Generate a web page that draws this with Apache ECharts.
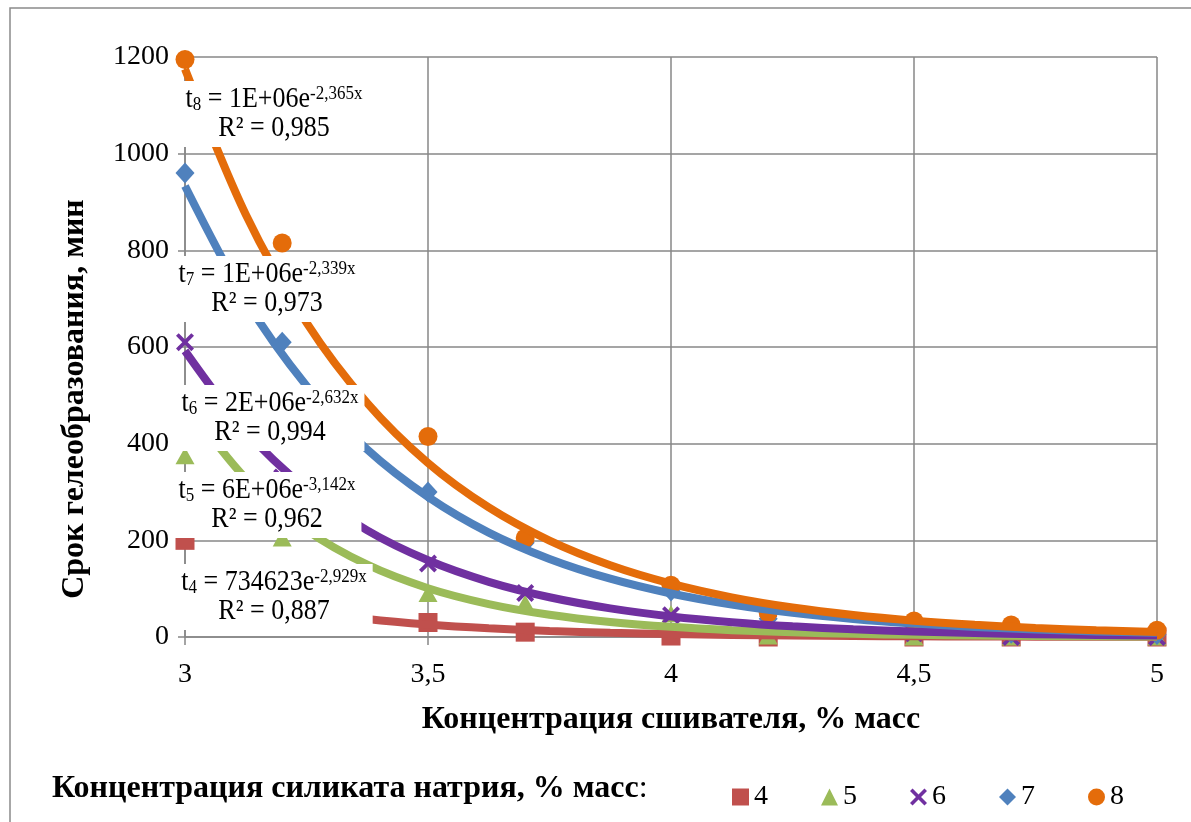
<!DOCTYPE html>
<html>
<head>
<meta charset="utf-8">
<script src="https://cdn.jsdelivr.net/npm/echarts@6/dist/echarts.min.js"></script>
<style>html,body{margin:0;padding:0;background:#fff}#c{width:1191px;height:822px}</style>
</head>
<body>
<div id="c"></div>
<script>
// Concentration of crosslinker, % mass
var xData = [3, 3.2, 3.5, 3.7, 4, 4.2, 4.5, 4.7, 5];
// Gelation time, min — sodium silicate 4..8 % mass
var s4 = [200, 60, 30, 10, 2, 0, 0, 0, 0];
var s5 = [375, 205, 90, 70, 48, 2, 0, 0, 0];
var s6 = [610, 330, 152, 91, 45, 30, 8, 0, 0];
var s7 = [960, 610, 300, 195, 95, 38, 15, 8, 5];
var s8 = [1195, 815, 415, 205, 107, 50, 33, 25, 14];
// Exponential trend lines
var trendX = [3, 3.125, 3.25, 3.375, 3.5, 3.625, 3.75, 3.875, 4, 4.125, 4.25, 4.375, 4.5, 4.625, 4.75, 4.875, 5];
var t4 = [112, 77.8, 53.9, 37.4, 25.9, 18, 12.5, 8.7, 6, 4.2, 2.9, 2, 1.4, 1, 0.7, 0.5, 0.3];
var t5 = [486, 328, 221.6, 149.6, 101, 68.2, 46.1, 31.1, 21, 14.2, 9.6, 6.5, 4.4, 3, 2, 1.3, 0.9];
var t6 = [592, 426, 306.5, 220.6, 158.7, 114.2, 82.2, 59.2, 42.6, 30.7, 22, 15.9, 11.4, 8.2, 5.9, 4.2, 3.1];
var t7 = [933, 697, 520, 388, 290, 216, 161.5, 120.6, 90, 67.2, 50.1, 37.4, 27.9, 20.8, 15.6, 11.6, 8.7];
var t8 = [1175, 874, 650.5, 484, 360, 268, 199.4, 148.4, 110.4, 82.1, 61.1, 45.5, 33.8, 25.2, 18.7, 13.9, 10.4];
var seriesNames = ['4', '5', '6', '7', '8'];
var colors = ['#C0504D', '#9BBB59', '#7030A0', '#4F81BD', '#E46C0A'];
var eqMain = ['734623e', '6E+06e', '2E+06e', '1E+06e', '1E+06e'];
var eqExp = ['-2,929x', '-3,142x', '-2,632x', '-2,339x', '-2,365x'];
var r2 = ['0,887', '0,962', '0,994', '0,973', '0,985'];
var yTicks = [0, 200, 400, 600, 800, 1000, 1200];

var serif = '"Liberation Serif","Times New Roman",serif';
var crossPath = 'path://M0,1.5 L1.5,0 L5,3.5 L8.5,0 L10,1.5 L6.5,5 L10,8.5 L8.5,10 L5,6.5 L1.5,10 L0,8.5 L3.5,5 Z';
var symbols = ['rect', 'triangle', crossPath, 'diamond', 'circle'];
var sizes = [19, [19, 17], 18, [19, 21], 19];
var pts = [s4, s5, s6, s7, s8];
var trends = [t4, t5, t6, t7, t8];

var series = [];
for (var i = 0; i < 5; i++) {
  series.push({
    name: seriesNames[i], type: 'scatter', symbol: symbols[i], symbolSize: sizes[i],
    itemStyle: {color: colors[i], opacity: 1}, z: 2, clip: false,
    data: xData.map(function (x, j) { return [x, pts[i][j]]; })
  });
}
for (var i = 0; i < 5; i++) {
  series.push({
    name: 'trend' + seriesNames[i], type: 'line', smooth: 0.3, showSymbol: false, silent: true,
    lineStyle: {color: colors[i], width: 8}, z: 3,
    data: trendX.map(function (x, j) { return [x, trends[i][j]]; })
  });
}

var labelCenters = [[274, 597], [267, 505], [270, 418], [267, 289], [274, 114]];
var graphics = [
  {type: 'rect', shape: {x: 10, y: 8, width: 1300, height: 900}, style: {fill: 'none', stroke: '#8a8a8a', lineWidth: 1.5}, z: 0, silent: true},
  {type: 'text', x: 75, y: 399, rotation: Math.PI / 2, z: 10,
   style: {text: 'Срок гелеобразования, мин', font: 'bold 32px ' + serif, fill: '#000', align: 'center', verticalAlign: 'middle'}},
  {type: 'text', x: 671, y: 720, z: 10,
   style: {text: 'Концентрация сшивателя, % масс', font: 'bold 32px ' + serif, fill: '#000', align: 'center', verticalAlign: 'middle'}},
  {type: 'text', x: 52, y: 789, z: 10,
   style: {text: '{b|Концентрация силиката натрия, % масс}{n|:}', fill: '#000', align: 'left', verticalAlign: 'middle',
     rich: {b: {font: 'bold 32px ' + serif, fill: '#000'}, n: {font: '32px ' + serif, fill: '#000'}}}}
];
for (var i = 0; i < 5; i++) {
  graphics.push({
    type: 'text', x: labelCenters[i][0], y: labelCenters[i][1], z: 20, scaleY: 1.1,
    style: {
      text: '{m|t}{sub|' + seriesNames[i] + '}{m| = ' + eqMain[i] + '}{sup|' + eqExp[i] + '}\n{m|R² = ' + r2[i] + '}',
      align: 'center', verticalAlign: 'middle', backgroundColor: '#fff', padding: [3, 6, 3, 6],
      fill: '#000',
      rich: {
        m: {font: '26px ' + serif, lineHeight: 27, fill: '#000', align: 'center'},
        sub: {font: '17px ' + serif, lineHeight: 14, verticalAlign: 'bottom', fill: '#000', align: 'center'},
        sup: {font: '17px ' + serif, lineHeight: 15, verticalAlign: 'top', fill: '#000', align: 'center'}
      }
    }
  });
}

var chart = echarts.init(document.getElementById('c'));
chart.setOption({
  animation: false,
  backgroundColor: '#fff',
  grid: {left: 185, right: 34, top: 57, bottom: 185},
  xAxis: {
    type: 'value', min: 3, max: 5, interval: 0.5,
    axisLine: {show: true, onZero: false, lineStyle: {color: '#878787', width: 1.5}},
    axisTick: {show: true, length: 8, lineStyle: {color: '#878787', width: 1.5}},
    splitLine: {show: true, lineStyle: {color: '#878787', width: 1.5}},
    axisLabel: {color: '#000', fontFamily: serif, fontSize: 28, margin: 24,
      formatter: function (v) { return String(v).replace('.', ','); }}
  },
  yAxis: {
    type: 'value', min: yTicks[0], max: yTicks[yTicks.length - 1], interval: 200,
    axisLine: {show: true, lineStyle: {color: '#878787', width: 1.5}},
    axisTick: {show: true, length: 7, lineStyle: {color: '#878787', width: 1.5}},
    splitLine: {show: true, lineStyle: {color: '#878787', width: 1.5}},
    axisLabel: {color: '#000', fontFamily: serif, fontSize: 28, margin: 16,
      formatter: function (v) { return String(v); }}
  },
  legend: {
    data: seriesNames, left: 727, top: 778, itemWidth: 17, itemHeight: 17, itemGap: 53,
    textStyle: {color: '#000', fontFamily: serif, fontSize: 28}, selectedMode: false
  },
  graphic: graphics,
  series: series
});
</script>
</body>
</html>
